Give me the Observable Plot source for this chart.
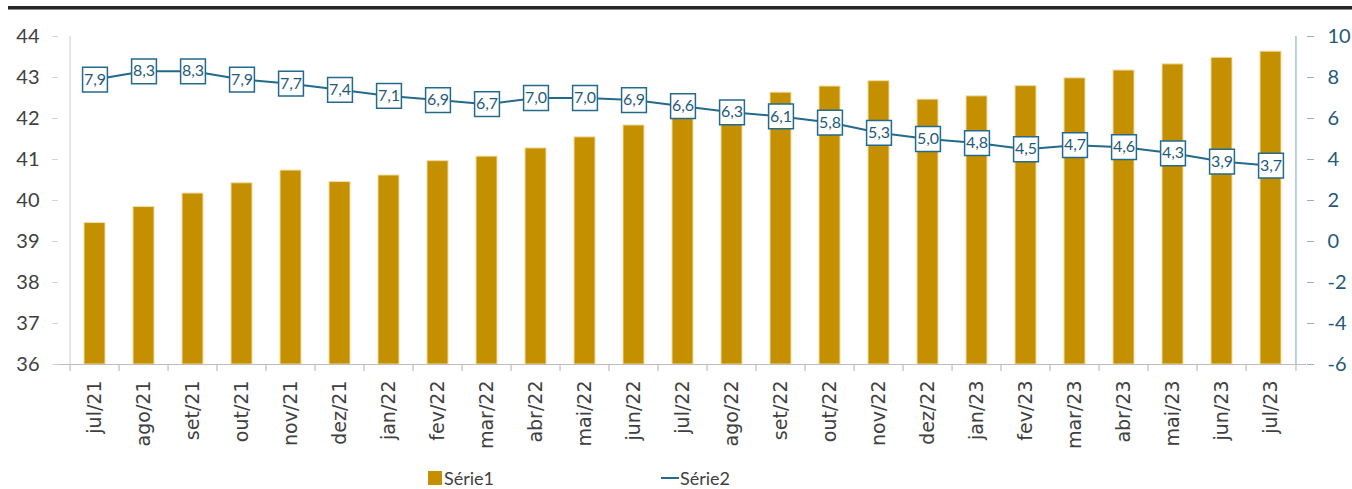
<!DOCTYPE html>
<html>
<head>
<meta charset="utf-8">
<script src="https://cdn.jsdelivr.net/npm/d3@7"></script>
<script src="https://cdn.jsdelivr.net/npm/@observablehq/plot@0.6"></script>
<style>
  html, body { margin: 0; padding: 0; background: #fff; overflow: hidden; }
  #wrap { position: relative; width: 1352px; height: 489px; }
  #rule { position: absolute; left: 8px; right: 0; top: 6px; height: 3px; background: #262626; border-bottom: 1px solid #8a8a8a; }
  #chart { position: absolute; left: 0; top: 12px; }
  .leg { position: absolute; top: 468px; font-family: Lato, "Liberation Sans", sans-serif; font-size: 18px; color: #404040; line-height: 20px; }
  .sw1 { position: absolute; left: 428px; top: 471px; width: 14px; height: 14px; background: #c49000; }
  .sw2 { position: absolute; left: 661px; top: 477px; width: 18px; height: 2px; background: #236a8c; }
</style>
</head>
<body>
<div id="wrap">
  <div id="rule"></div>
  <div id="chart"></div>
  <div class="sw1"></div><div class="leg" style="left:444px">Série1</div>
  <div class="sw2"></div><div class="leg" style="left:680px">Série2</div>
</div>
<script>
const months = ["jul/21","ago/21","set/21","out/21","nov/21","dez/21","jan/22","fev/22","mar/22","abr/22","mai/22","jun/22",
  "jul/22","ago/22","set/22","out/22","nov/22","dez/22","jan/23","fev/23","mar/23","abr/23","mai/23","jun/23","jul/23"];
const serie1 = [39.45, 39.84, 40.17, 40.42, 40.73, 40.45, 40.61, 40.96, 41.07, 41.27, 41.54, 41.83,
  42.08, 42.33, 42.63, 42.78, 42.91, 42.46, 42.54, 42.79, 42.98, 43.17, 43.32, 43.48, 43.63];
const serie2 = [7.9, 8.3, 8.3, 7.9, 7.7, 7.4, 7.1, 6.9, 6.7, 7.0, 7.0, 6.9,
  6.6, 6.3, 6.1, 5.8, 5.3, 5.0, 4.8, 4.5, 4.7, 4.6, 4.3, 3.9, 3.7];
const leftTicks = [36, 37, 38, 39, 40, 41, 42, 43, 44];
const rightTicks = [-6, -4, -2, 0, 2, 4, 6, 8, 10];

// map right-axis values onto the left scale: -6 -> 36, 10 -> 44
const toLeft = v => 36 + (v + 6) / 2;
const fromLeft = y => Math.round((y - 36) * 2 - 6);

const W = 1352, H = 445, ML = 58, MR = 46, MT = 24, MB = 93;
const step = (W - ML - MR) / months.length;

const data = months.map((m, i) => ({m, s1: serie1[i], s2: serie2[i], s2l: toLeft(serie2[i])}));

const gold = "#c49000";
const blue = "#236a8c";
const blueText = "#1f5a78";

const chart = Plot.plot({
  width: W, height: H,
  marginLeft: ML, marginRight: MR, marginTop: MT, marginBottom: MB,
  style: {background: "white", overflow: "visible"},
  x: {type: "band", domain: months, paddingInner: 0.58, paddingOuter: 0.29},
  y: {domain: [36, 44]},
  marks: [
    Plot.barY(data, {x: "m", y1: 36, y2: "s1", fill: gold, stroke: "#f1dca4", strokeWidth: 1}),
    // left axis line & right axis line (category boundaries at extremes)
    Plot.ruleX([months[0]], {x: d => d, dx: -step / 2, y1: 36, y2: 44, stroke: "#d4d4d4", strokeWidth: 1.2}),
    Plot.ruleX([months[months.length - 1]], {x: d => d, dx: step / 2, y1: 36, y2: 44, stroke: "#93b3c4", strokeWidth: 1.2}),
    // bottom axis line
    Plot.ruleY([36], {stroke: "#bdbdbd", strokeWidth: 1.2}),
    // category boundary ticks
    Plot.ruleX(months, {x: d => d, dx: -step / 2, y1: 36, y2: 36 - 7 / 41, stroke: "#bdbdbd", strokeWidth: 1.2}),
    Plot.ruleX([months[months.length - 1]], {x: d => d, dx: step / 2, y1: 36, y2: 36 - 7 / 41, stroke: "#bdbdbd", strokeWidth: 1.2}),
    Plot.axisY(leftTicks, {anchor: "left", tickSize: 6, tickPadding: 13, stroke: "#d4d4d4",
      fill: "#404040", fontSize: 20, fontFamily: "Lato, 'Liberation Sans', sans-serif", label: null}),
    Plot.axisY(rightTicks.map(toLeft), {anchor: "right", tickSize: 7, tickPadding: 14, stroke: "#93b3c4",
      fill: blueText, fontSize: 20, fontFamily: "Lato, 'Liberation Sans', sans-serif", label: null,
      tickFormat: d => String(fromLeft(d))}),
    Plot.axisX({tickRotate: -90, tickSize: 0, tickPadding: 16, fill: "#404040", fontSize: 19,
      fontFamily: "'DejaVu Sans', sans-serif", label: null}),
    Plot.line(data, {x: "m", y: "s2l", stroke: blue, strokeWidth: 2}),
    Plot.dot(data, {x: "m", y: "s2l", symbol: "square", r: 14, fill: "white", stroke: blue, strokeWidth: 1.5}),
    Plot.text(data, {x: "m", y: "s2l", text: d => d.s2.toFixed(1).replace(".", ","), fill: blueText,
      fontSize: 16, fontFamily: "Lato, 'Liberation Sans', sans-serif"})
  ]
});
document.getElementById("chart").appendChild(chart);
</script>
</body>
</html>
